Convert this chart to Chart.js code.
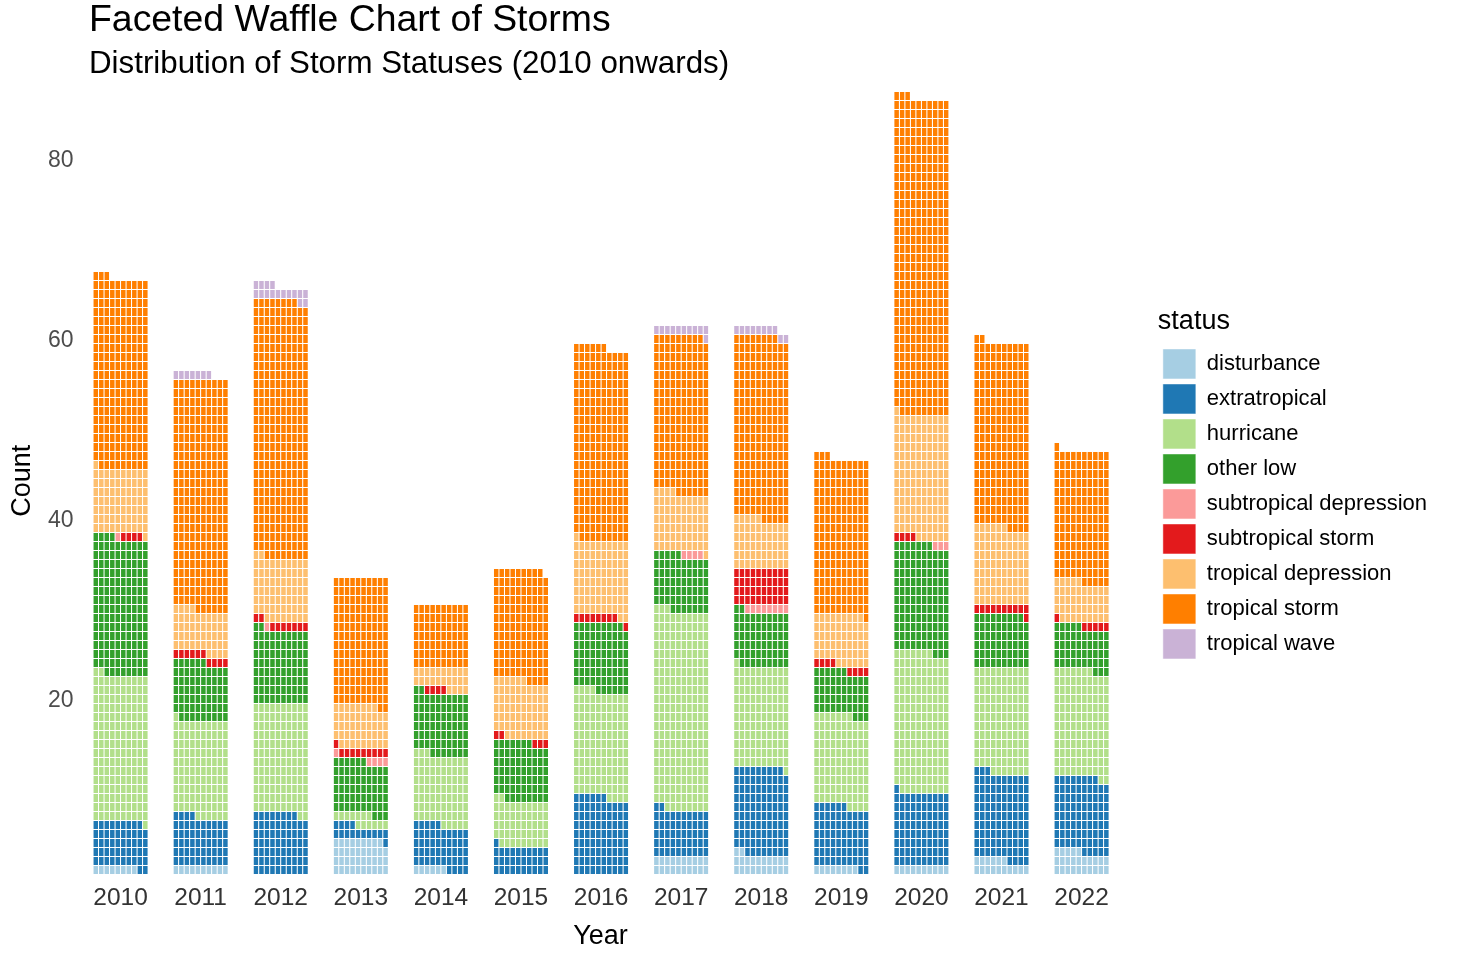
<!DOCTYPE html>
<html>
<head>
<meta charset="utf-8">
<title>Faceted Waffle Chart of Storms</title>
<script src="https://cdn.jsdelivr.net/npm/chart.js@4.4.1/dist/chart.umd.min.js"></script>
<style>
  html, body { margin: 0; padding: 0; background: #fff; }
  #wrap { position: relative; width: 1469px; height: 953px; font-family: "Liberation Sans", Arial, sans-serif; }
  #chart-box { position: absolute; left: 0; top: 0; width: 1469px; height: 953px; }
  #title { position: absolute; left: 89px; top: 0px; font-size: 37.4px; line-height: 37px; color: #000; white-space: nowrap; }
  #subtitle { position: absolute; left: 89px; top: 47px; font-size: 31.3px; line-height: 31px; color: #000; white-space: nowrap; }
</style>
</head>
<body>
<div id="wrap">
  <div id="chart-box"><canvas id="chart"></canvas></div>
  <div id="title">Faceted Waffle Chart of Storms</div>
  <div id="subtitle">Distribution of Storm Statuses (2010 onwards)</div>
</div>
<script>
// Data
const years = ['2010', '2011', '2012', '2013', '2014', '2015', '2016', '2017', '2018', '2019', '2020', '2021', '2022'];
const statuses = ['disturbance', 'extratropical', 'hurricane', 'other low', 'subtropical depression',
  'subtropical storm', 'tropical depression', 'tropical storm', 'tropical wave'];

const disturbance = [8, 10, 0, 39, 6, 0, 0, 20, 22, 8, 10, 16, 25];
const extratropical = [51, 54, 68, 15, 49, 31, 86, 52, 97, 68, 81, 97, 83];
const hurricane = [163, 107, 122, 13, 78, 51, 118, 221, 112, 101, 156, 117, 119];
const otherLow = [152, 65, 82, 59, 69, 65, 75, 62, 61, 49, 120, 59, 48];
const subtropicalDepression = [1, 0, 1, 5, 0, 0, 0, 4, 8, 0, 3, 0, 0];
const subtropicalStorm = [4, 10, 9, 10, 4, 5, 9, 0, 40, 8, 4, 11, 6];
const tropicalDepression = [72, 48, 70, 47, 24, 64, 83, 65, 55, 55, 137, 86, 44];
const tropicalStorm = [212, 256, 286, 142, 70, 123, 215, 175, 203, 174, 352, 206, 146];
const tropicalWave = [0, 7, 16, 0, 0, 0, 0, 11, 10, 0, 0, 0, 0];

const yTicks = [20, 40, 60, 80];

const statusColors = ['#A6CEE3', '#1F78B4', '#B2DF8A', '#33A02C', '#FB9A99',
  '#E31A1C', '#FDBF6F', '#FF7F00', '#CAB2D6'];


// Waffle cells: 10 per row, filled left to right from the bottom, one facet per year
const cellsPerRow = 10;
const facetStep = 14.55;
const counts = [disturbance, extratropical, hurricane, otherLow, subtropicalDepression,
  subtropicalStorm, tropicalDepression, tropicalStorm, tropicalWave];
const cells = statuses.map(() => []);

years.forEach((year, i) => {
  let k = 0;
  counts.forEach((series, s) => {
    for (let n = 0; n < series[i]; n++) {
      const row = Math.floor(k / cellsPerRow) + 1;
      const col = k % cellsPerRow;
      cells[s].push({ x: i * facetStep + col, y: [row - 0.5, row + 0.5] });
      k++;
    }
  });
});


// Chart
Chart.defaults.font.family = '"Liberation Sans", Arial, sans-serif';

const datasets = statuses.map((label, s) => ({
  label: label,
  data: cells[s],
  backgroundColor: statusColors[s],
  borderColor: '#ffffff',
  borderWidth: 0.5,
  borderSkipped: false,
  inflateAmount: 0,
  grouped: false,
  barPercentage: 1,
  categoryPercentage: 1
}));

const chart = new Chart('chart', {
  type: 'bar',
  data: { datasets: datasets },
  options: {
    responsive: true,
    maintainAspectRatio: false,
    animation: false,
    events: [],
    layout: { padding: { top: 82.5, right: 32, bottom: 0, left: 0 } },
    scales: {
      x: {
        type: 'linear',
        offset: false,
        min: -9.59,
        max: 192.96,
        grid: { display: false, drawTicks: false, offset: false },
        border: { display: false },
        afterBuildTicks: (scale) => {
          scale.ticks = years.map((y, i) => ({ value: i * facetStep + 4.5 }));
        },
        ticks: {
          autoSkip: false,
          maxRotation: 0,
          padding: 5,
          color: '#333333',
          font: { size: 24.5 },
          callback: (value, index) => years[index]
        },
        title: {
          display: true,
          text: 'Year',
          color: '#000000',
          font: { size: 27 },
          padding: { top: 0, bottom: 0 }
        },
        afterFit: (scale) => { scale.height = 74; }
      },
      y: {
        type: 'linear',
        min: 0,
        max: 88.5,
        grid: { display: false, drawTicks: false },
        border: { display: false },
        afterBuildTicks: (scale) => {
          scale.ticks = yTicks.map((v) => ({ value: v }));
        },
        ticks: {
          mirror: true,
          padding: 5,
          labelOffset: 2,
          color: '#4d4d4d',
          font: { size: 23 }
        },
        title: {
          display: true,
          text: 'Count',
          color: '#000000',
          font: { size: 27 },
          padding: { top: 6, bottom: 0 }
        },
        afterFit: (scale) => { scale.width = 43; }
      }
    },
    plugins: {
      tooltip: { enabled: false },
      legend: {
        position: 'right',
        align: 'center',
        fullSize: false,
        maxWidth: 280,
        title: {
          display: true,
          text: 'status',
          color: '#000000',
          position: 'start',
          font: { size: 27 },
          padding: { top: 10, bottom: 4 }
        },
        labels: {
          boxWidth: 33,
          boxHeight: 30,
          padding: 5,
          color: '#000000',
          font: { size: 22 }
        }
      }
    }
  }
});
</script>
</body>
</html>
